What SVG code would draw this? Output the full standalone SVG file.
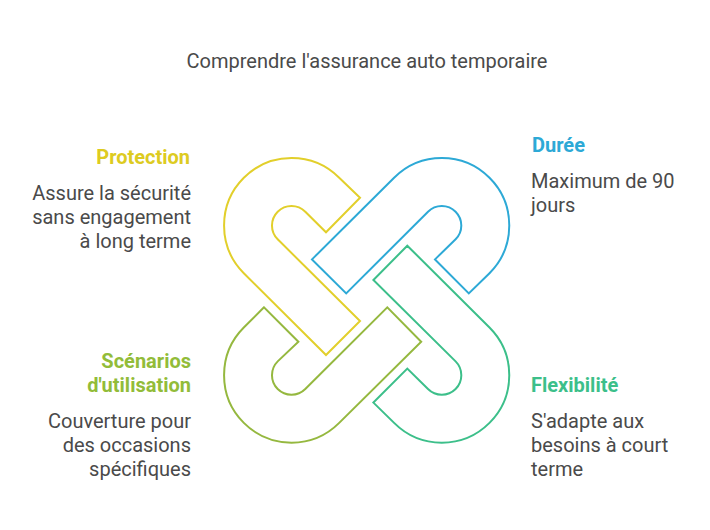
<svg xmlns="http://www.w3.org/2000/svg" width="710" height="530" viewBox="0 0 710 530">
<style>
text{font-family:Roboto,"Liberation Sans",sans-serif;font-size:20px;fill:#4a4a4a}
.h{font-weight:700}
.e{text-anchor:end}
.l{fill:none;stroke-width:2;stroke-linejoin:miter}
</style>
<rect width="710" height="530" fill="#fff"/>
<g id="title"><text x="367" y="68" text-anchor="middle">Comprendre l'assurance auto temporaire</text></g>
<g id="connectors">
<path id="link-protection" class="l" stroke="#E2CF2B" d="M360,197.7L339.2,177.8A67,67 0 0 0 243.8,273.2L326,355L360,321L277.7,239.3A19,19 0 0 1 305.3,211.7L326,232.3Z"/>
<path id="link-duree" class="l" stroke="#2DA9D6" d="M312,259.4L394.1,177.8A67,67 0 0 1 489.5,273.2L468.8,293.4L435,259.4L455.6,239.3A19,19 0 0 0 428,211.7L346.2,293.4Z"/>
<path id="link-flexibilite" class="l" stroke="#3CBF8A" d="M407.3,245.7L489.5,327.5A67,67 0 0 1 394.1,422.9L373.4,402.6L407.3,368.6L428,389A19,19 0 0 0 455.6,361.4L373.4,280Z"/>
<path id="link-scenarios" class="l" stroke="#95B83F" d="M264,307.3L243.8,327.5A67,67 0 0 0 339.2,422.9L421.2,341.7L387.3,307.3L305.3,389A19,19 0 0 1 277.7,361.4L298.4,341.7Z"/>
</g>
<g id="node-protection"><text class="h e" x="190" y="164" style="fill:#DDCB21">Protection</text><text class="e" x="191" y="200">Assure la sécurité</text><text class="e" x="191" y="224">sans engagement</text><text class="e" x="191" y="248">à long terme</text></g>
<g id="node-duree"><text class="h" x="532" y="152" style="fill:#2DA9D6">Durée</text><text x="531" y="188">Maximum de 90</text><text x="531" y="212">jours</text></g>
<g id="node-scenarios"><text class="h e" x="191" y="368" style="fill:#92BC39">Scénarios</text><text class="h e" x="191" y="392" style="fill:#92BC39">d'utilisation</text><text class="e" x="191" y="428">Couverture pour</text><text class="e" x="191" y="452">des occasions</text><text class="e" x="191" y="476">spécifiques</text></g>
<g id="node-flexibilite"><text class="h" x="531" y="392" style="fill:#3CBF8A">Flexibilité</text><text x="531" y="428">S'adapte aux</text><text x="531" y="452">besoins à court</text><text x="531" y="476">terme</text></g>
</svg>
